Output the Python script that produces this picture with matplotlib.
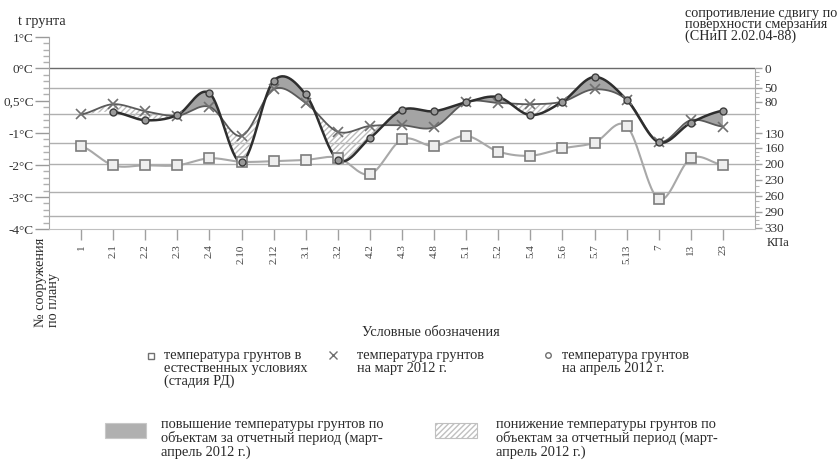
import numpy as np
import matplotlib
matplotlib.use('Agg')
import matplotlib.pyplot as plt
from matplotlib.patches import Rectangle

plt.rcParams['font.family'] = ['Liberation Serif', 'DejaVu Serif']

# ---------------- data ----------------
categories = ['1', '2.1', '2.2', '2.3', '2.4', '2.10', '2.12', '3.1', '3.2', '4.2', '4.3',
              '4.8', '5.1', '5.2', '5.4', '5.6', '5.7', '5.13', '7', '13', '23']
# natural ground temperature (stage RD), deg C
natural = [-1.41, -2.01, -2.01, -2.01, -1.79, -1.90, -1.88, -1.84, -1.77, -2.29, -1.20,
           -1.41, -1.09, -1.58, -1.71, -1.48, -1.30, -0.89, -3.07, -1.79, -2.00]
# March 2012
march = [-0.71, -0.55, -0.66, -0.73, -0.59, -1.09, -0.32, -0.53, -0.98, -0.89, -0.88,
         -0.91, -0.52, -0.53, -0.55, -0.51, -0.32, -0.48, -1.27, -0.80, -0.90]
# April 2012 (no value for object 1)
april = [np.nan, -0.67, -0.80, -0.72, -0.38, -1.91, -0.19, -0.40, -1.84, -1.16, -0.64,
         -0.66, -0.52, -0.44, -0.72, -0.51, -0.13, -0.48, -1.29, -0.84, -0.65]

t_ticks = [-4, -3, -2, -1, -0.5, 0, 1]
t_labels = ['-4°C', '-3°C', '-2°C', '-1°C', '0,5°C', '0°C', '1°C']
r_ticks = [0, 50, 80, 130, 160, 200, 230, 260, 290, 330]
r_grid = [0, 50, 100, 150, 200, 250, 300]

# ---------------- scale layout (piecewise axes) ----------------
t_pos = [0, 32, 64, 96, 128, 160.5, 192]
r_map_vals = [-78, 0, 50, 80, 100, 130, 150, 160, 200, 230, 250, 260, 290, 300, 330, 332.5]
r_map_pos = [192, 160.5, 141, 127, 115, 96, 86, 81, 65, 49, 37, 33, 17, 13, 1, 0]


def fwd_t(v):
    return np.interp(v, t_ticks, t_pos)


def inv_t(p):
    return np.interp(p, t_pos, t_ticks)


def fwd_r(v):
    return -np.interp(v, r_map_vals, r_map_pos)


def inv_r(p):
    return np.interp(-np.asarray(p), r_map_pos[::-1], r_map_vals[::-1])


def catmull(y, n=30):
    y = np.asarray(y, float)
    m = len(y)
    xs, ys = [], []
    t = np.linspace(0, 1, n, endpoint=False)
    for i in range(m - 1):
        y0 = y[i - 1] if i > 0 else y[i]
        y1, y2 = y[i], y[i + 1]
        y3 = y[i + 2] if i + 2 < m else y[i + 1]
        c1 = y1 + (y2 - y0) / 6
        c2 = y2 - (y3 - y1) / 6
        b = (1 - t) ** 3 * y1 + 3 * (1 - t) ** 2 * t * c1 + 3 * (1 - t) * t ** 2 * c2 + t ** 3 * y2
        xs.append(i + t)
        ys.append(b)
    xs.append([m - 1])
    ys.append([y[-1]])
    return np.concatenate(xs), np.concatenate(ys)


def smooth_temp(vals):
    sx, sh = catmull(fwd_t(np.asarray(vals, float)))
    return sx + 1, inv_t(sh)


W, H = 840, 465
fig = plt.figure(figsize=(8.4, 4.65), dpi=100)
ax = fig.add_axes([49 / W, 1 - 229 / H, (755 - 49) / W, (229 - 37) / H])
ax2 = ax.twinx()
ax.set_zorder(ax2.get_zorder() + 1)
ax.patch.set_visible(False)

ax.set_yscale('function', functions=(fwd_t, inv_t))
ax.set_ylim(-4, 1)
ax.set_xlim(0, 22)
ax2.set_yscale('function', functions=(fwd_r, inv_r))
ax2.set_ylim(332.5, -78)

# grid lines (belong to right axis)
for r in r_grid:
    ax2.axhline(r, color='#6a6a6a' if r == 0 else '#b0b0b0', lw=1.0, zorder=0)

x = np.arange(1, len(categories) + 1)
april_arr = np.asarray(april, float)
march_arr = np.asarray(march, float)
april_fill = np.where(np.isnan(april_arr), march_arr, april_arr)

sx, m_s = smooth_temp(march)
_, a_s = smooth_temp(april_fill)
_, n_s = smooth_temp(natural)

ax.fill_between(sx, m_s, a_s, where=a_s >= m_s, interpolate=True,
                color='#a4a4a4', lw=0, zorder=2)
ax.fill_between(sx, m_s, a_s, where=a_s < m_s, interpolate=True,
                facecolor='none', edgecolor='#bcbcbc', hatch='//////', lw=0, zorder=2)

ax.plot(sx, n_s, color='#a8a8a8', lw=1.5, zorder=3)
ax.plot(x, natural, ls='none', marker='s', ms=6.5, mfc='#eeeeee', mec='#7c7c7c', mew=1.2, zorder=6)

ax.plot(sx, m_s, color='#5a5a5a', lw=1.3, zorder=4)
ax.plot(x, march, ls='none', marker='x', ms=7, mec='#707070', mew=1.2, zorder=6)

keep = sx >= 2
ax.plot(sx[keep], a_s[keep], color='#2e2e2e', lw=1.8, zorder=5)
ax.plot(x, april, ls='none', marker='o', ms=5, mfc='#9a9a9a', mec='#3c3c3c', mew=1.0, zorder=7)

# left axis
minor_t = []
for a, b in zip(t_ticks[:-1], t_ticks[1:]):
    minor_t += list(np.linspace(a, b, 6)[1:-1])
ax.set_yticks(t_ticks, labels=t_labels)
ax.set_yticks(minor_t, minor=True)
ax.yaxis.set_minor_formatter(plt.NullFormatter())
ax.tick_params(axis='y', which='major', length=10, width=1, color='#9a9a9a',
               labelsize=9.5, pad=1, labelcolor='#333333')
ax.tick_params(axis='y', which='minor', length=4, width=1, color='#b0b0b0')

# x axis
ax.set_xticks(x, labels=categories, rotation=90)
ax.tick_params(axis='x', length=8, width=1, color='#a0a0a0', labelsize=8,
               pad=3, labelcolor='#444444')
for s in ['top', 'right']:
    ax.spines[s].set_visible(False)
ax.spines['left'].set_color('#a8a8a8')
ax.spines['bottom'].set_color('#c0c0c0')

# right axis
for s in ['top', 'left', 'bottom']:
    ax2.spines[s].set_visible(False)
ax2.spines['right'].set_bounds(0, 330)
ax2.spines['right'].set_color('#a8a8a8')
ax2.set_yticks(r_ticks, labels=[str(v) for v in r_ticks])
ax2.set_yticks(np.arange(0, 331, 10), minor=True)
ax2.yaxis.set_minor_formatter(plt.NullFormatter())
ax2.tick_params(axis='y', which='major', length=5, width=1, color='#a0a0a0',
                labelsize=9.5, pad=2, labelcolor='#333333')
ax2.tick_params(axis='y', which='minor', length=3, width=0.8, color='#b8b8b8')

# ---------------- annotation layer (pixel layout) ----------------
lay = fig.add_axes([0, 0, 1, 1])
lay.set_xlim(0, W)
lay.set_ylim(H, 0)
lay.axis('off')

txt = dict(color='#2a2a2a')
lay.text(18, 22, 't грунта', fontsize=10.3, ha='left', va='center', **txt)
lay.text(685, 25, 'сопротивление сдвигу по\nповерхности смерзания\n(СНиП 2.02.04-88)',
         fontsize=10.2, ha='left', va='center', linespacing=0.8, **txt)
lay.text(767, 243, 'КПа', fontsize=9, ha='left', va='center', **txt)
lay.text(47, 327, '№ сооружения\nпо плану', fontsize=10.3, rotation=90, ha='center',
         va='bottom', multialignment='left', linespacing=1.0, **txt)

lay.text(431, 332, 'Условные обозначения', fontsize=10.3, ha='center', va='center', **txt)

lay.plot([151], [356], marker='s', ms=5, mfc='white', mec='#707070', mew=1.0, ls='none')
lay.text(164, 349, 'температура грунтов в\nестественных условиях\n(стадия РД)',
         fontsize=10.4, ha='left', va='top', linespacing=0.96, **txt)
lay.plot([333], [355], marker='x', ms=6, mec='#707070', mew=1.0, ls='none')
lay.text(357, 349, 'температура грунтов\nна март 2012 г.',
         fontsize=10.4, ha='left', va='top', linespacing=0.96, **txt)
lay.plot([548], [355], marker='o', ms=4, mfc='white', mec='#707070', mew=1.0, ls='none')
lay.text(562, 349, 'температура грунтов\nна апрель 2012 г.',
         fontsize=10.4, ha='left', va='top', linespacing=0.96, **txt)

lay.add_patch(Rectangle((105, 423), 41, 15, facecolor='#b0b0b0', edgecolor='#c8c8c8', lw=0.8))
lay.text(161, 418, 'повышение температуры грунтов по\nобъектам за отчетный период (март-\nапрель 2012 г.)',
         fontsize=10.4, ha='left', va='top', linespacing=1.02, **txt)
lay.add_patch(Rectangle((435, 423), 42, 15, facecolor='white', edgecolor='#c0c0c0',
                        hatch='//////', lw=0.8))
lay.text(496, 418, 'понижение температуры грунтов по\nобъектам за отчетный период (март-\nапрель 2012 г.)',
         fontsize=10.4, ha='left', va='top', linespacing=1.02, **txt)

fig.savefig('out.png', dpi=100)
